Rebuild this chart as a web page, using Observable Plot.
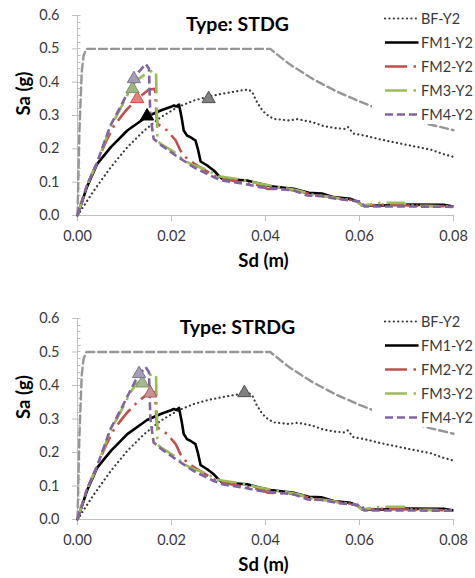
<!DOCTYPE html>
<html><head><meta charset="utf-8">
<script src="https://cdn.jsdelivr.net/npm/d3@7"></script>
<script src="https://cdn.jsdelivr.net/npm/@observablehq/plot@0.6"></script>
<style>
body{margin:0;background:#fff;}
#wrap{width:475px;}
#wrap svg{display:block;}
</style></head><body><div id="wrap"></div>
<script>
// ---------------- data ----------------
const seriesNames = ["BF-Y2", "FM1-Y2", "FM2-Y2", "FM3-Y2", "FM4-Y2"];
const panelTitles = ["Type: STDG", "Type: STRDG"];
const xLabel = "Sd (m)";
const yLabel = "Sa (g)";
const xTicks = [0, 0.02, 0.04, 0.06, 0.08];
const yTicks = [0, 0.1, 0.2, 0.3, 0.4, 0.5, 0.6];
const yMinor = [0,0.02,0.04,0.06,0.08,0.1,0.12,0.14,0.16,0.18,0.2,0.22,0.24,0.26,0.28,0.3,0.32,0.34,0.36,0.38,0.4,0.42,0.44,0.46,0.48,0.5,0.52,0.54,0.56,0.58,0.6];

// demand spectrum (grey dashed)
const sdDemand = [0, 0.0004, 0.0009, 0.0013, 0.0019, 0.041, 0.045, 0.05, 0.055, 0.06, 0.065, 0.07, 0.075, 0.08];
const saDemand = [0, 0.25, 0.43, 0.48, 0.5, 0.5, 0.455, 0.41, 0.373, 0.342, 0.315, 0.293, 0.273, 0.256];

const sdBF = [0,0.0035,0.0071,0.0106,0.0142,0.0177,0.0213,0.0248,0.0279,0.031,0.0347,0.0364,0.0372,0.038,0.039,0.040,0.0417,0.045,0.0468,0.050,0.0524,0.055,0.0568,0.0575,0.0587,0.061,0.0645,0.070,0.0751,0.0779,0.08];
const saBF = [0,0.075,0.145,0.205,0.255,0.295,0.325,0.345,0.357,0.366,0.375,0.378,0.37,0.345,0.322,0.305,0.29,0.285,0.289,0.28,0.268,0.262,0.26,0.266,0.246,0.24,0.228,0.212,0.198,0.184,0.176];

const sdFM1 = [0,0.002,0.0042,0.0071,0.0106,0.0148,0.0177,0.0199,0.0205,0.021,0.0216,0.0222,0.0226,0.0233,0.024,0.0251,0.0256,0.0262,0.0276,0.029,0.030,0.0308,0.0361,0.0389,0.0411,0.046,0.0492,0.052,0.0545,0.058,0.0595,0.0606,0.065,0.069,0.0779,0.08];
const saFM1 = [0,0.085,0.155,0.205,0.255,0.297,0.315,0.326,0.33,0.327,0.333,0.29,0.255,0.24,0.235,0.225,0.2,0.162,0.15,0.135,0.12,0.11,0.105,0.095,0.088,0.08,0.068,0.066,0.055,0.05,0.042,0.03,0.03,0.033,0.032,0.027];

const sdFM2 = [0,0.002,0.0042,0.006,0.0078,0.0092,0.0103,0.0127,0.0152,0.0165,0.0168,0.017,0.0191,0.0209,0.0219,0.0233,0.0255,0.029,0.0308,0.0347,0.0389,0.0404,0.045,0.048,0.0505,0.053,0.056,0.0595,0.0605,0.065,0.07,0.08];
const saFM2 = [0,0.09,0.16,0.22,0.27,0.295,0.315,0.35,0.378,0.38,0.3,0.275,0.255,0.225,0.195,0.17,0.15,0.12,0.11,0.1,0.09,0.08,0.078,0.07,0.06,0.058,0.05,0.045,0.03,0.032,0.03,0.027];

const sdFM3 = [0,0.002,0.0042,0.007,0.0091,0.0113,0.0125,0.0145,0.016,0.0167,0.0169,0.017,0.0177,0.0206,0.0227,0.0248,0.027,0.030,0.0347,0.0389,0.043,0.047,0.050,0.054,0.058,0.0595,0.0605,0.0645,0.0695,0.07,0.08];
const saFM3 = [0,0.09,0.16,0.265,0.32,0.38,0.405,0.425,0.435,0.432,0.3,0.225,0.215,0.19,0.165,0.15,0.14,0.118,0.108,0.095,0.085,0.075,0.063,0.055,0.047,0.042,0.03,0.038,0.038,0.03,0.027];

const sdFM4 = [0,0.002,0.0042,0.007,0.0091,0.0109,0.0127,0.0145,0.0152,0.0155,0.0162,0.0177,0.0209,0.0247,0.029,0.0308,0.0354,0.0389,0.046,0.0489,0.052,0.055,0.058,0.0605,0.061,0.065,0.07,0.08];
const saFM4 = [0,0.09,0.16,0.27,0.325,0.375,0.425,0.455,0.44,0.3,0.23,0.212,0.18,0.145,0.115,0.105,0.095,0.085,0.075,0.06,0.058,0.05,0.045,0.042,0.027,0.027,0.027,0.026];

// performance points (triangles) per panel, in the order of seriesNames
const perfSdSTDG = [0.0279, 0.0148, 0.0127, 0.0117, 0.0120];
const perfSaSTDG = [0.350, 0.298, 0.350, 0.380, 0.410];
const perfSdSTRDG = [0.0355, null, 0.0155, 0.0138, 0.0131];
const perfSaSTRDG = [0.378, null, 0.377, 0.407, 0.435];

// ---------------- styles ----------------
const FONT = "Lato, 'Open Sans', sans-serif";
const lineStyles = [
  {stroke: "#3a3a3a", width: 2.2, dash: "0.1,4.3", cap: "round"},
  {stroke: "#000000", width: 2.6, dash: null, cap: "butt"},
  {stroke: "#c0504d", width: 2.6, dash: "20,6,2.5,6", cap: "butt"},
  {stroke: "#9bbb59", width: 2.6, dash: "20,6,2.5,6", cap: "butt"},
  {stroke: "#8064a2", width: 2.6, dash: "8,4", cap: "butt"}
];
const demandStyle = {stroke: "#969696", width: 2.4, dash: "8,4"};
const triStylesSTDG = [
  {fill: "#808080", stroke: "#505050"},
  {fill: "#000000", stroke: "#000000"},
  {fill: "#f07c7c", stroke: "#d04848"},
  {fill: "#9fb389", stroke: "#7d9860"},
  {fill: "#a49db6", stroke: "#7b6f95"}
];
const triStylesSTRDG = [
  {fill: "#808080", stroke: "#505050"},
  {fill: "#000000", stroke: "#000000"},
  {fill: "#c99393", stroke: "#a45f5f"},
  {fill: "#a2b68f", stroke: "#7d9860"},
  {fill: "#a49db6", stroke: "#7b6f95"}
];

const curves = [[sdBF, saBF], [sdFM1, saFM1], [sdFM2, saFM2], [sdFM3, saFM3], [sdFM4, saFM4]];
const toPts = (sd, sa) => sd.map((d, i) => ({sd: d, sa: sa[i]}));

function makePanel(title, perfSd, perfSa, triStyles, height, marginTop, marginBottom) {
  const marks = [];
  marks.push(Plot.ruleX([0], {stroke: "#bfbfbf", strokeWidth: 1}));
  marks.push(Plot.ruleY([0], {stroke: "#bfbfbf", strokeWidth: 1}));
  // inner tick marks on y axis (every 0.02)
  marks.push((index, scales, values, dims) => {
    const g = d3.create("svg:g").attr("stroke", "#bfbfbf");
    const y = scales.y;
    for (const v of yMinor) {
      const yy = Math.round(y(v)) + 0.5;
      g.append("line").attr("x1", dims.marginLeft).attr("x2", dims.marginLeft + 3.5).attr("y1", yy).attr("y2", yy);
    }
    return g.node();
  });
  marks.push(Plot.axisY({ticks: yTicks, tickFormat: d3.format(".1f"), tickSize: 5, tickPadding: 13, stroke: "#bfbfbf", fill: "#3a3a3a", fontSize: 14.5, fontFamily: FONT, label: null}));
  marks.push(Plot.axisX({ticks: xTicks, tickFormat: d3.format(".2f"), tickSize: 6, tickPadding: 9, stroke: "#bfbfbf", fill: "#3a3a3a", fontSize: 14.5, fontFamily: FONT, label: null}));
  // demand spectrum
  marks.push(Plot.line(toPts(sdDemand, saDemand), {x: "sd", y: "sa", stroke: demandStyle.stroke, strokeWidth: demandStyle.width, strokeDasharray: demandStyle.dash}));
  // capacity curves
  curves.forEach(([sd, sa], i) => {
    const st = lineStyles[i];
    marks.push(Plot.line(toPts(sd, sa), {x: "sd", y: "sa", stroke: st.stroke, strokeWidth: st.width, strokeDasharray: st.dash, strokeLinecap: st.cap, strokeLinejoin: "round"}));
  });
  // performance points
  const pts = seriesNames.map((n, i) => ({n, i, sd: perfSd[i], sa: perfSa[i]})).filter(d => d.sd != null);
  marks.push(Plot.dot(pts, {x: "sd", y: "sa", symbol: "triangle", r: 4.9, fill: d => triStyles[d.i].fill, stroke: d => triStyles[d.i].stroke, strokeWidth: 1}));
  // legend (white box hides curves beneath)
  marks.push((index, scales, values, dims) => {
    const g = d3.create("svg:g");
    const top = dims.marginTop;
    g.append("rect").attr("x", 372).attr("y", top - 12).attr("width", dims.width - 372).attr("height", 121).attr("fill", "#fff");
    seriesNames.forEach((name, i) => {
      const yy = top + 3.5 + i * 24;
      const st = lineStyles[i];
      const ln = g.append("line").attr("x1", 385).attr("x2", 418.5).attr("y1", yy).attr("y2", yy)
        .attr("stroke", st.stroke).attr("stroke-width", st.width).attr("stroke-linecap", st.cap);
      if (st.dash) ln.attr("stroke-dasharray", i === 2 || i === 3 ? "22,6.5,2.5,6.5" : st.dash);
      g.append("text").attr("x", 421).attr("y", yy).attr("dy", "0.36em").attr("text-anchor", "start")
        .attr("font-family", FONT).attr("font-size", 14.5).attr("fill", "#3a3a3a").text(name);
    });
    return g.node();
  });
  // title and axis labels
  marks.push(Plot.text([title], {frameAnchor: "top", dx: -28, dy: 9, lineAnchor: "middle", text: d => d, fontSize: 19.5, fontWeight: "bold", fontFamily: FONT, fill: "#000"}));
  marks.push(Plot.text([xLabel], {frameAnchor: "bottom", dx: -2, dy: 46, lineAnchor: "middle", text: d => d, fontSize: 18.5, fontWeight: "bold", fontFamily: FONT, fill: "#000"}));
  marks.push(Plot.text([yLabel], {frameAnchor: "left", dx: -53, rotate: -90, lineAnchor: "middle", text: d => d, fontSize: 18.5, fontWeight: "bold", fontFamily: FONT, fill: "#000"}));

  return Plot.plot({
    width: 475, height, marginLeft: 77, marginRight: 22, marginTop, marginBottom,
    x: {domain: [0, 0.08], axis: null},
    y: {domain: [0, 0.6], axis: null},
    style: {fontFamily: FONT, background: "#fff", overflow: "visible"},
    marks
  });
}

const wrap = document.getElementById("wrap");
wrap.appendChild(makePanel(panelTitles[0], perfSdSTDG, perfSaSTDG, triStylesSTDG, 290, 15, 75));
wrap.appendChild(makePanel(panelTitles[1], perfSdSTRDG, perfSaSTRDG, triStylesSTRDG, 288, 28, 59));
</script></body></html>
